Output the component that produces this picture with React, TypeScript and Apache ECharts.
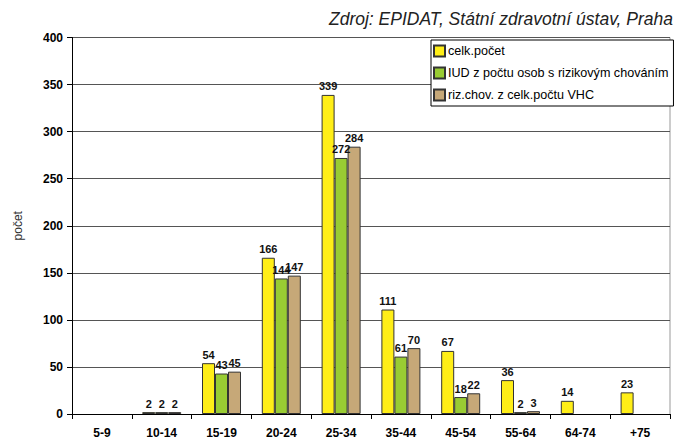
import React, { useEffect, useRef } from "react";
import * as echarts from "echarts";

const categories = ["5-9", "10-14", "15-19", "20-24", "25-34", "35-44", "45-54", "55-64", "64-74", "+75"];
const celkPocet = [null, 2, 54, 166, 339, 111, 67, 36, 14, 23];
const iud = [null, 2, 43, 144, 272, 61, 18, 2, null, null];
const rizChov = [null, 2, 45, 147, 284, 70, 22, 3, null, null];
const seriesNames = ["celk.počet", "IUD z počtu osob s rizikovým chováním", "riz.chov. z celk.počtu VHC"];
const seriesColors = ["#FFEE17", "#99CC33", "#C6A878"];

export default function App() {
  const ref = useRef<HTMLDivElement>(null);
  useEffect(() => {
    if (!ref.current) return;
    const chart = echarts.init(ref.current, null, { renderer: "svg" });
    const label = {
      show: true,
      position: "top",
      distance: 3,
      color: "#111",
      fontFamily: "Liberation Sans, Arial",
      fontWeight: "bold",
      fontSize: 11,
    };
    const mk = (name: string, data: (number | null)[], color: string) => ({
      name,
      type: "bar",
      data,
      barWidth: 13,
      barGap: "0%",
      barCategoryGap: "33%",
      itemStyle: { color, borderColor: "#333", borderWidth: 1 },
      label,
    });
    chart.setOption({
      animation: false,
      backgroundColor: "#fff",
      title: {
        text: "Zdroj: EPIDAT, Státní zdravotní ústav, Praha",
        right: 8,
        top: 5,
        textStyle: {
          fontFamily: "Liberation Sans, Arial",
          fontStyle: "italic",
          fontWeight: "normal",
          fontSize: 17.5,
          color: "#222",
        },
      },
      legend: {
        orient: "vertical",
        left: 431,
        top: 40,
        backgroundColor: "#fff",
        borderColor: "#000",
        borderWidth: 1,
        borderRadius: 0,
        padding: [4, 5, 4, 2],
        itemWidth: 11,
        itemHeight: 11,
        itemGap: 8,
        icon: "rect",
        textStyle: { fontFamily: "Liberation Sans, Arial", fontSize: 12.6, color: "#000", lineHeight: 14, padding: [0, 0, 0, -2] },
        data: seriesNames,
      },
      grid: { left: 72, right: 16, top: 37.5, bottom: 28, containLabel: false },
      xAxis: {
        type: "category",
        data: categories,
        axisLine: { lineStyle: { color: "#000", width: 1 } },
        axisTick: { show: true, length: 5, lineStyle: { color: "#000" } },
        axisLabel: {
          color: "#000",
          fontFamily: "Liberation Sans, Arial",
          fontWeight: "bold",
          fontSize: 12,
          margin: 13,
        },
      },
      yAxis: {
        type: "value",
        min: 0,
        max: 400,
        interval: 50,
        name: "počet",
        nameLocation: "middle",
        nameGap: 48,
        nameTextStyle: { fontFamily: "Liberation Sans, Arial", fontSize: 12, color: "#333" },
        axisLine: { show: true, lineStyle: { color: "#000", width: 1 } },
        axisTick: { show: true, length: 5, lineStyle: { color: "#000" } },
        axisLabel: {
          color: "#000",
          fontFamily: "Liberation Sans, Arial",
          fontWeight: "bold",
          fontSize: 12,
          margin: 9,
        },
        splitLine: { show: true, lineStyle: { color: "#555", width: 1 } },
      },
      graphic: [
        {
          type: "line",
          shape: { x1: 670, y1: 37.5, x2: 670, y2: 414 },
          style: { stroke: "#999", lineWidth: 1 },
          z: 0,
        },
      ],
      series: [
        mk(seriesNames[0], celkPocet, seriesColors[0]),
        mk(seriesNames[1], iud, seriesColors[1]),
        mk(seriesNames[2], rizChov, seriesColors[2]),
      ],
    });
    return () => chart.dispose();
  }, []);
  return <div ref={ref} style={{ width: 686, height: 442, position: "absolute", left: 0, top: 0 }} />;
}
